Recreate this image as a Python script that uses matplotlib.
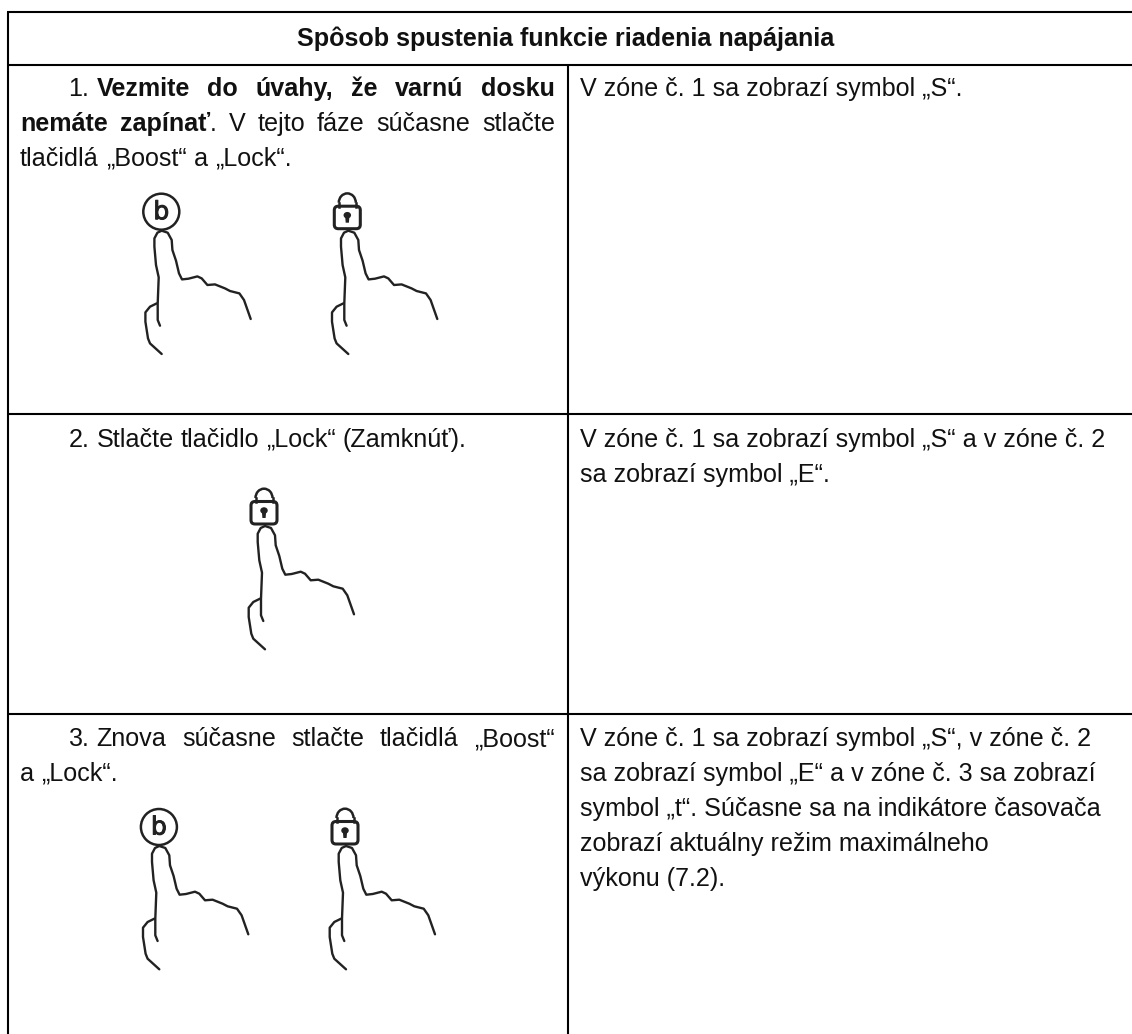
import matplotlib
matplotlib.use('Agg')
import matplotlib.pyplot as plt
import matplotlib.patheffects as pe
from matplotlib.patches import Circle, FancyBboxPatch, Arc, Ellipse, Polygon

plt.rcParams['font.family'] = ['Liberation Sans', 'DejaVu Sans']

W, H = 1132, 1034
FS = 18.1
LINE_COL = '#000000'
TEXT_COL = '#111111'
ICON_COL = '#222222'

# table rules, in image pixels
row_lines = [12, 64.5, 414, 713.5]
left_x = 7.5
mid_x = 567.5

title = 'Spôsob spustenia funkcie riadenia napájania'

# left column: number label, then (word, bold) per word, True = stretched to cell width
left_row1 = [
    ('1.', [('Vezmite', True), ('do', True), ('úvahy,', True), ('že', True), ('varnú', True), ('dosku', True)], True),
    ('', [('nemáte', True), ('zapínať', True), ('.', False), ('V', False), ('tejto', False), ('fáze', False), ('súčasne', False), ('stlačte', False)], True),
    ('', [('tlačidlá', False), ('„Boost“', False), ('a', False), ('„Lock“.', False)], False),
]
left_row2 = [
    ('2.', [('Stlačte', False), ('tlačidlo', False), ('„Lock“', False), ('(Zamknúť).', False)], False),
]
left_row3 = [
    ('3.', [('Znova', False), ('súčasne', False), ('stlačte', False), ('tlačidlá', False), ('„Boost“', False)], True),
    ('', [('a', False), ('„Lock“.', False)], False),
]

right_row1 = ['V zóne č. 1 sa zobrazí symbol „S“.']
right_row2 = ['V zóne č. 1 sa zobrazí symbol „S“ a v zóne č. 2',
              'sa zobrazí symbol „E“.']
right_row3 = ['V zóne č. 1 sa zobrazí symbol „S“, v zóne č. 2',
              'sa zobrazí symbol „E“ a v zóne č. 3 sa zobrazí',
              'symbol „t“. Súčasne sa na indikátore časovača',
              'zobrazí aktuálny režim maximálneho',
              'výkonu (7.2).']

# baselines
row1_y = [96, 131, 165.5]
row2_y = [446.7, 482]
row3_y = [746, 781, 816, 851, 886]

# hand outline, offsets from the finger tip in pixels
hand_x = [-1.7, -4, -4, -3, -5.7, -7.3, -7.3, -4.3, 0, 6, 10, 10.7, 14.3, 17.3, 20.3, 26.7, 35.7, 40, 45.7, 53.3, 63.3, 68.3, 77.7, 82.3, 89]
hand_y = [95, 89.3, 72.7, 46.7, 34.3, 16, 7.7, 2, 0, 2, 9.3, 19.3, 30, 42.7, 48.7, 48, 45.7, 47.7, 54.3, 53.7, 57.7, 60.3, 62.7, 69.3, 88.3]
thumb_x = [-5, -11.7, -16.3, -16.3, -13.7, -11.7, 0]
thumb_y = [72.7, 76, 81.7, 91, 107.7, 112.7, 123.3]

# finger tips of the icons (x, y, which button)
icons = [(161.7, 230.7, 'b'), (348.3, 230.7, 'lock'),
         (265, 526, 'lock'),
         (159.3, 846, 'b'), (346, 846, 'lock')]


def draw_words(ax, fig, label, words, x1, y, justify):
    r = fig.canvas.get_renderer()
    x0 = 20
    if label:
        ax.text(68.5, y, label, fontsize=FS, color=TEXT_COL, va='baseline', ha='left')
        x0 = 96.5
    items = []
    for word, bold in words:
        t = ax.text(0, y, word, fontsize=FS, color=TEXT_COL, va='baseline', ha='left',
                    fontweight='bold' if bold else 'normal')
        items.append(t)
    widths = [t.get_window_extent(r).width for t in items]
    # the full stop sticks to the word before it
    gaps = sum(1 for w, _ in words[1:] if w != '.')
    space = FS * 100 / 72 * 0.278
    if justify and gaps:
        space = (x1 - x0 - sum(widths)) / gaps
    x = x0
    for i, (t, w) in enumerate(zip(items, widths)):
        if i > 0 and words[i][0] != '.':
            x += space
        t.set_x(x)
        x += w


def draw_hand(ax, tx, ty, kind):
    ax.plot([tx + v for v in hand_x], [ty + v for v in hand_y], color=ICON_COL, lw=1.7,
            solid_capstyle='round', solid_joinstyle='round')
    ax.plot([tx + v for v in thumb_x], [ty + v for v in thumb_y], color=ICON_COL, lw=1.7,
            solid_capstyle='round', solid_joinstyle='round')
    if kind == 'b':
        ax.add_patch(Circle((tx - 0.4, ty - 19), 18, fill=False, ec=ICON_COL, lw=1.8))
        ax.text(tx - 0.4, ty - 18.5, 'b', fontsize=18, family='DejaVu Sans', color=ICON_COL,
                ha='center', va='center',
                path_effects=[pe.withStroke(linewidth=0.7, foreground=ICON_COL)])
    else:
        cx = tx - 1
        ax.add_patch(FancyBboxPatch((cx - 13, ty - 24.5), 26, 22.5, boxstyle='round,pad=0,rounding_size=4',
                                    fill=False, ec=ICON_COL, lw=2.2))
        ax.add_patch(Arc((cx, ty - 28), 17, 18.6, theta1=180, theta2=360, ec=ICON_COL, lw=1.8))
        ax.plot([cx - 8.5, cx - 8.5], [ty - 28, ty - 24], color=ICON_COL, lw=1.8)
        ax.plot([cx + 8.5, cx + 8.5], [ty - 28, ty - 24], color=ICON_COL, lw=1.8)
        ax.add_patch(Ellipse((cx, ty - 15.5), 7.5, 6.5, fc=ICON_COL, ec='none'))
        ax.add_patch(Polygon([(cx - 2.2, ty - 15), (cx + 2.2, ty - 15), (cx + 1.6, ty - 8), (cx - 1.6, ty - 8)],
                             fc=ICON_COL, ec='none'))


fig = plt.figure(figsize=(W / 100, H / 100), dpi=100)
ax = fig.add_axes([0, 0, 1, 1])
ax.set_xlim(0, W)
ax.set_ylim(H, 0)
ax.axis('off')

for y in row_lines:
    ax.plot([left_x - 1, W], [y, y], color=LINE_COL, lw=1.5, solid_capstyle='butt')
ax.plot([left_x, left_x], [row_lines[0], H], color=LINE_COL, lw=1.5, solid_capstyle='butt')
ax.plot([mid_x, mid_x], [row_lines[1], H], color=LINE_COL, lw=1.5, solid_capstyle='butt')

ax.text(566, 46, title, fontsize=FS, fontweight='bold', color=TEXT_COL, ha='center', va='baseline')

for row, ys in [(left_row1, row1_y), (left_row2, row2_y), (left_row3, row3_y)]:
    for (label, words, just), y in zip(row, ys):
        draw_words(ax, fig, label, words, 555, y, just)

for row, ys in [(right_row1, row1_y), (right_row2, row2_y), (right_row3, row3_y)]:
    for line, y in zip(row, ys):
        ax.text(580, y, line, fontsize=FS, color=TEXT_COL, ha='left', va='baseline')

for tx, ty, kind in icons:
    draw_hand(ax, tx, ty, kind)

fig.savefig('out.png', dpi=100)
